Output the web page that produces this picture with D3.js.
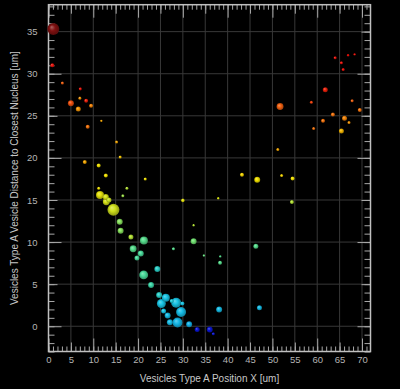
<!DOCTYPE html>
<html>
<head>
<meta charset="utf-8">
<script src="https://cdn.jsdelivr.net/npm/d3@7"></script>
<style>
  html, body { margin: 0; padding: 0; background: #000; }
  #chart { width: 400px; height: 389px; }
</style>
</head>
<body>
<div id="chart"></div>
<script>
// vesicle position X [um]
var posX = [1.07, 0.85, 3.1, 7.1, 7.0, 8.4, 5.0, 9.5, 6.65, 11.8, 8.75, 15.2, 16.0, 8.1, 11.2, 12.8, 21.6, 11.2, 17.5, 11.5,
    12.8, 13.5, 12.9, 16.6, 14.5, 15.9, 16.1, 18.4, 21.3, 32.4, 27.9, 18.9, 20.6, 19.75, 34.7, 38.35, 38.3, 21.25, 24.3, 22.9,
    24.7, 26.2, 25.2, 27.5, 28.5, 29.9, 25.7, 29.6, 26.6, 27.1, 28.8, 31.4, 38.1, 47.1, 33.2, 36.0, 36.8, 43.2, 46.6, 52.05,
    30.0, 37.9, 32.4, 46.3, 54.5, 54.35, 51.2, 64.0, 66.9, 68.35, 65.4, 65.8, 61.8, 58.7, 67.8, 51.7, 69.5, 63.5, 66.1, 61.3,
    67.1, 59.2, 65.4];
// distance to closest nucleus [um]
var distance = [35.3, 31.0, 28.9, 28.2, 27.1, 26.8, 26.5, 26.2, 25.8, 24.4, 23.7, 21.9, 20.1, 19.5, 19.1, 17.9, 17.5, 16.4, 16.4, 15.6,
    15.35, 15.0, 14.8, 15.5, 13.85, 12.4, 11.35, 10.6, 10.2, 10.1, 9.2, 9.2, 8.65, 8.1, 8.4, 8.3, 7.55, 6.1, 6.8, 4.9,
    3.7, 3.4, 2.7, 3.0, 2.8, 2.7, 1.8, 1.7, 1.27, 0.47, 0.44, 0.24, 2.0, 2.2, -0.4, -0.4, -0.9, 18.0, 17.4, 17.9,
    14.95, 15.2, 12.0, 9.5, 17.55, 14.75, 21.0, 31.9, 32.2, 32.3, 31.3, 30.5, 28.1, 26.6, 26.8, 26.1, 25.7, 25.15, 24.7, 24.4,
    24.2, 23.5, 23.2];
// vesicle volume (arbitrary units)
var volume = [36, 4, 2.3, 2.3, 2.3, 4, 9, 4, 6.3, 1.4, 4, 2.3, 2.3, 4, 4, 4, 2.3, 2.3, 2.3, 16,
    9, 6.3, 12, 2.3, 36, 9, 9, 6.3, 16, 9, 2.3, 12, 9, 6.3, 1.4, 1.4, 4, 20, 9, 9,
    9, 16, 20, 4, 25, 4, 6.3, 25, 9, 9, 25, 9, 9, 6.3, 6.3, 9, 2.3, 4, 9, 2.3,
    3.2, 1.4, 1.4, 6.3, 4, 4, 2.3, 2.3, 1.4, 1.4, 2.3, 2.3, 6.3, 2.3, 2.3, 12, 4, 4, 6.3, 4,
    2.3, 2.3, 6.3];
// colour-coded statistic
var colorStat = [35, 31, 26, 31, 23, 30, 27, 24, 23, 22, 25, 22, 20, 22, 18, 18, 18, 18, 14, 17,
    16, 15, 16, 13, 15.5, 12, 12, 14, 9, 11, 9, 9, 8, 8, 10, 9, 9, 8, 5, 7,
    5, 3, 3, 4, 3, 3, 3, 2, 2, 2, 1.5, 1, 2, 2, -1, -1, -1, 19, 18, 19,
    17, 16, 14, 9, 18, 14, 22, 31, 31, 31, 31, 31, 30, 28, 26, 26, 25, 25, 24, 25,
    23, 25, 21];

var xTitle = "Vesicles Type A Position X [um]";
var yTitle = "Vesicles Type A Vesicle Distance to Closest Nucleus [um]";
var xLabels = d3.range(0, 71, 5);
var yLabels = d3.range(0, 36, 5);

var width = 400, height = 389,
    plotLeft = 48.5, plotRight = 370.5, plotTop = 4.7, plotBottom = 351.5;

var xScale = d3.scaleLinear().domain([0, 71.9]).range([plotLeft, plotRight]);
var yScale = d3.scaleLinear().domain([-3, 38.2]).range([plotBottom, plotTop]);
var rScale = d3.scaleSqrt().domain([0, 36]).range([0, 6]);
var colorScale = d3.scaleLinear()
    .domain([-1, 0, 3, 7, 11, 15, 18, 22, 26, 31, 35])
    .range(["#0a14d0", "#10a8e8", "#18c4e4", "#3cd8a8", "#70e070", "#c8e020", "#f0e000", "#f0a400", "#f06010", "#e81008", "#801010"]);

var svg = d3.select("#chart").append("svg")
    .attr("width", width)
    .attr("height", height)
    .style("background", "#000");

var defs = svg.append("defs");

// grid
svg.append("g").selectAll("line").data(xLabels.slice(1)).enter()
    .append("line")
    .attr("x1", function(d){ return xScale(d); })
    .attr("x2", function(d){ return xScale(d); })
    .attr("y1", plotTop).attr("y2", plotBottom)
    .style("stroke", "#383838").style("stroke-width", 1);
svg.append("g").selectAll("line").data(yLabels).enter()
    .append("line")
    .attr("y1", function(d){ return yScale(d); })
    .attr("y2", function(d){ return yScale(d); })
    .attr("x1", plotLeft).attr("x2", plotRight)
    .style("stroke", "#383838").style("stroke-width", 1);

// tick marks on all four sides
var minorX = d3.range(0, 72, 1), minorY = d3.range(-3, 39, 1);
var tenX = xLabels.filter(function(d){ return d % 10 == 0; }),
    fiveX = xLabels.filter(function(d){ return d % 10 != 0; }),
    tenY = yLabels.filter(function(d){ return d % 10 == 0; }),
    fiveY = yLabels.filter(function(d){ return d % 10 != 0; });

function tickGroup(axis, tx, ty){
    var g = svg.append("g").attr("transform", "translate(" + tx + "," + ty + ")").call(axis);
    g.select(".domain").remove();
    g.selectAll("line").style("stroke", "#a8a8a8").style("stroke-width", 1);
    return g;
}
[[minorX, 5], [fiveX, 9], [tenX, 13]].forEach(function(s){
    tickGroup(d3.axisTop(xScale).tickValues(s[0]).tickSize(s[1]).tickFormat(""), 0, plotBottom);
    tickGroup(d3.axisBottom(xScale).tickValues(s[0]).tickSize(s[1]).tickFormat(""), 0, plotTop);
});
[[minorY, 6], [fiveY, 9], [tenY, 13]].forEach(function(s){
    tickGroup(d3.axisRight(yScale).tickValues(s[0]).tickSize(s[1]).tickFormat(""), plotLeft, 0);
    tickGroup(d3.axisLeft(yScale).tickValues(s[0]).tickSize(s[1]).tickFormat(""), plotRight, 0);
});

// frame
svg.append("rect")
    .attr("x", plotLeft).attr("y", plotTop)
    .attr("width", plotRight - plotLeft).attr("height", plotBottom - plotTop)
    .style("fill", "none").style("stroke", "#c0c0c0").style("stroke-width", 1.5);

// tick labels
var xAx = svg.append("g").attr("transform", "translate(0," + plotBottom + ")")
    .call(d3.axisBottom(xScale).tickValues(xLabels).tickSize(0).tickPadding(5));
var yAx = svg.append("g").attr("transform", "translate(" + plotLeft + ",0)")
    .call(d3.axisLeft(yScale).tickValues(yLabels).tickSize(0).tickPadding(11));
[xAx, yAx].forEach(function(g){
    g.select(".domain").remove();
    g.selectAll("text")
        .style("fill", "#b4b4b4")
        .style("font-family", "Liberation Sans, Arial, sans-serif")
        .style("font-size", "9.5px");
});

// axis titles
svg.append("text")
    .attr("x", (plotLeft + plotRight) / 2).attr("y", 382)
    .style("text-anchor", "middle")
    .style("fill", "#c8c8c8")
    .style("font-family", "Liberation Sans, Arial, sans-serif")
    .style("font-size", "10px")
    .text(xTitle);
svg.append("text")
    .attr("transform", "translate(18," + (plotTop + plotBottom) / 2 + ") rotate(-90)")
    .style("text-anchor", "middle")
    .style("fill", "#c8c8c8")
    .style("font-family", "Liberation Sans, Arial, sans-serif")
    .style("font-size", "10px")
    .text(yTitle);

// spheres
var idx = d3.range(posX.length);
idx.forEach(function(i){
    var c = d3.color(colorScale(colorStat[i]));
    var grad = defs.append("radialGradient")
        .attr("id", "sp" + i)
        .attr("cx", "50%").attr("cy", "50%").attr("r", "55%")
        .attr("fx", "35%").attr("fy", "32%");
    grad.append("stop").attr("offset", "0%").attr("stop-color", d3.interpolateRgb(c, "#ffffff")(0.35));
    grad.append("stop").attr("offset", "45%").attr("stop-color", c.formatHex());
    grad.append("stop").attr("offset", "100%").attr("stop-color", c.darker(1.3).formatHex());
});

// larger ones drawn first so small ones stay visible
idx.sort(function(a, b){ return volume[b] - volume[a]; });
svg.append("g").selectAll("circle").data(idx).enter()
    .append("circle")
    .attr("cx", function(i){ return xScale(posX[i]); })
    .attr("cy", function(i){ return yScale(distance[i]); })
    .attr("r", function(i){ return rScale(volume[i]); })
    .style("fill", function(i){ return "url(#sp" + i + ")"; });
</script>
</body>
</html>
